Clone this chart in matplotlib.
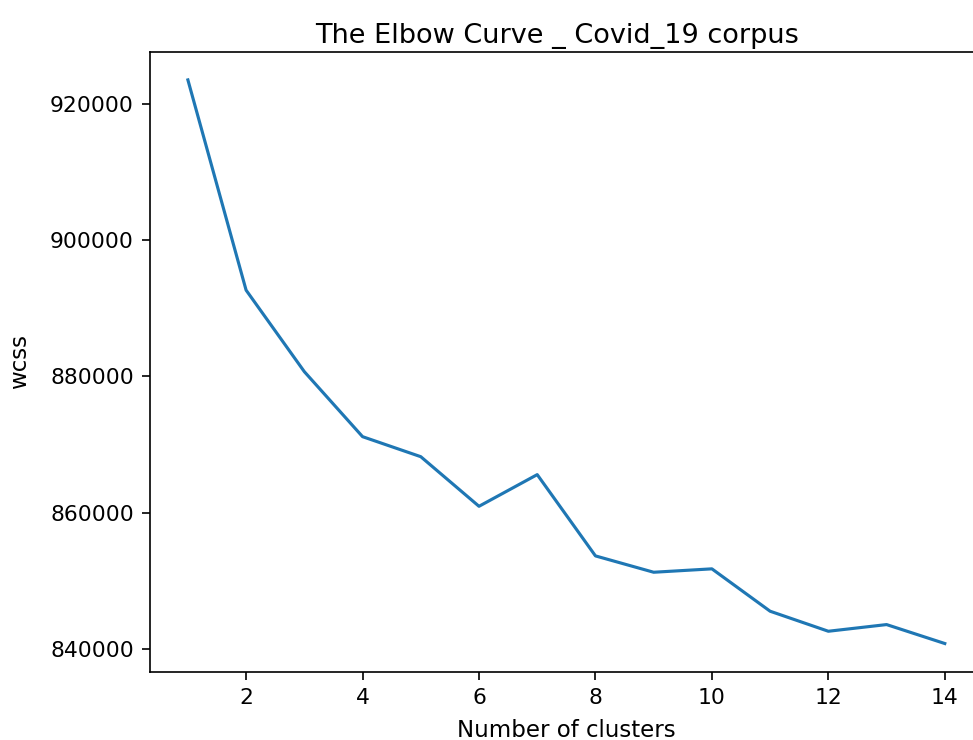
import numpy as np
from matplotlib import pyplot as plt

# elbow curve values
clusters = list(range(1, 15))
wcss = [923500, 892640, 880680, 871140, 868200, 860920, 865570,
        853640, 851240, 851740, 845520, 842580, 843560, 840780]

fig = plt.figure(figsize=(973 / 150, 740 / 150), dpi=150)
# axes runs past the right edge, like the cropped original
ax = fig.add_axes([0.1542, 0.0923, 0.8557, 0.8378])

ax.plot(clusters, wcss, linewidth=1.5)
ax.set_title('The Elbow Curve _ Covid_19 corpus', fontsize=13, x=0.489, pad=4)
ax.set_xlabel('Number of clusters', fontsize=11)
ax.set_ylabel('wcss', fontsize=11)
ax.xaxis.set_label_coords(0.5, -0.076)
ax.yaxis.set_label_coords(-0.1425, 0.5)
ax.tick_params(labelsize=10.5, length=4, pad=3.8)

fig.savefig('out.png', dpi=150)
